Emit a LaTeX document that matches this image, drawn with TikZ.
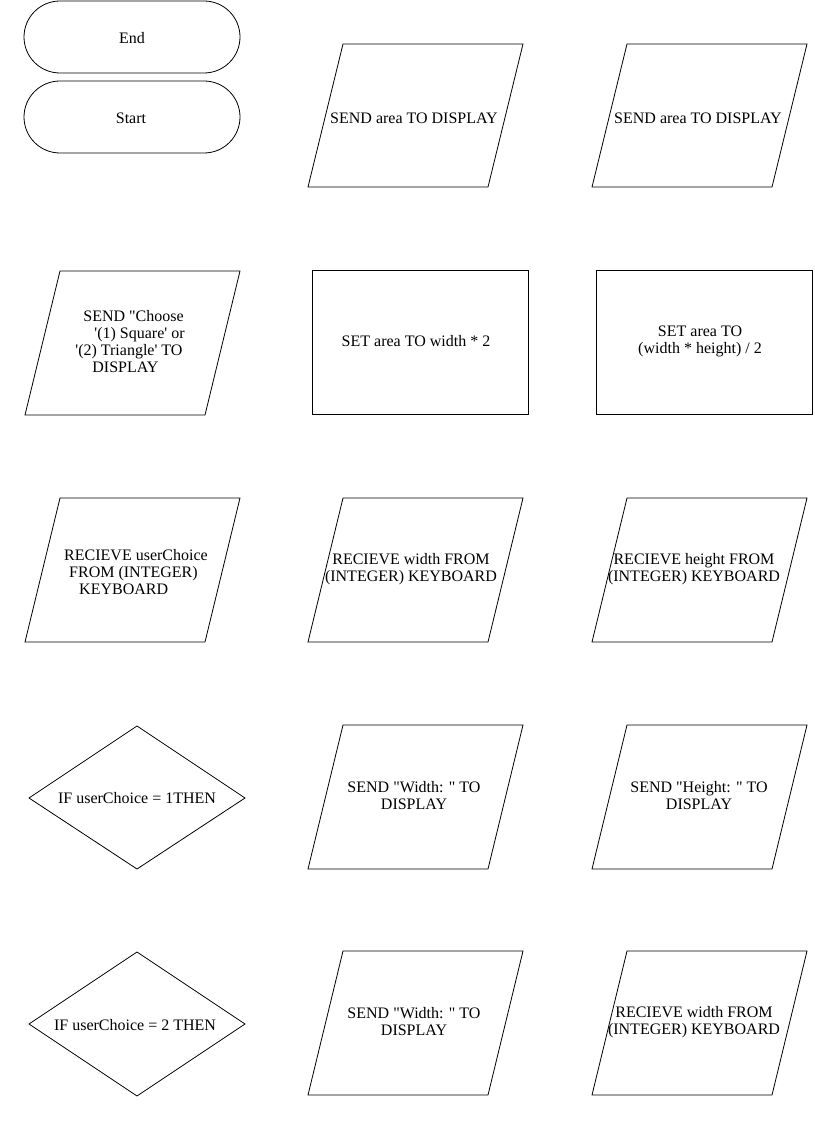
\documentclass[tikz,border=0pt]{standalone}
\usepackage{fontspec}
\setmainfont{Liberation Serif}[Ligatures=TeXOff]
\newcommand\pgram[3]{\draw[shp] (#1,#2) -- (#1+180,#2) -- (#1+145,#3) -- (#1-35,#3) -- cycle;}
\begin{document}
\begin{tikzpicture}[x=1pt,y=-1pt,
  shp/.style={draw=black,line width=0.8pt},
  txt/.style={inner sep=0pt,font=\fontsize{16}{17}\selectfont,align=center}]
\useasboundingbox (0,0) rectangle (814,1123);
% terminals
\draw[shp,rounded corners=36pt] (24,1) rectangle (240,73);
\node[txt] (endn) at (132,38) {End};
\draw[shp,rounded corners=36pt] (24,81) rectangle (240,153);
\node[txt] (start) at (131,118) {Start};
% row 1
\pgram{343}{44}{187}
\node[txt] (r1c2) at (414,118) {SEND area TO DISPLAY};
\pgram{627}{44}{187}
\node[txt] (r1c3) at (698,118) {SEND area TO DISPLAY};
% row 2
\pgram{60}{271}{415}
\node[txt,align=left] (r2c1) at (130,342) {\hspace*{8pt}SEND "Choose\\\hspace*{19pt}'(1) Square' or\\'(2) Triangle' TO\\\hspace*{17pt}DISPLAY};
\draw[shp] (312,270) rectangle (528,414);
\node[txt] (r2c2) at (416,341) {SET area TO width * 2};
\draw[shp] (596,270) rectangle (812,414);
\node[txt] (r2c3) at (700,341) {SET area TO\\(width * height) / 2};
% row 3
\pgram{60}{498}{642}
\node[txt,align=left] (r3c1) at (136,572) {RECIEVE userChoice\\\hspace*{5pt}FROM (INTEGER)\\\hspace*{15pt}KEYBOARD};
\pgram{343}{498}{642}
\node[txt] (r3c2) at (411,569) {RECIEVE width FROM\\(INTEGER) KEYBOARD};
\pgram{627}{498}{642}
\node[txt] (r3c3) at (694,569) {RECIEVE height FROM\\(INTEGER) KEYBOARD};
% row 4
\draw[shp] (137,726) -- (245,798) -- (137,869) -- (29,798) -- cycle;
\node[txt] (if1) at (137,798) {IF userChoice = 1THEN};
\pgram{343}{725}{869}
\node[txt] (r4c2) at (414,796) {SEND "Width: " TO\\DISPLAY};
\pgram{627}{725}{869}
\node[txt] (r4c3) at (699,796) {SEND "Height: " TO\\DISPLAY};
% row 5
\draw[shp] (137,952) -- (245,1024) -- (137,1096) -- (29,1024) -- cycle;
\node[txt] (if2) at (135,1025) {IF userChoice = 2 THEN};
\pgram{343}{951}{1095}
\node[txt] (r5c2) at (414,1022) {SEND "Width: " TO\\DISPLAY};
\pgram{627}{951}{1095}
\node[txt] (r5c3) at (694,1022) {RECIEVE width FROM\\(INTEGER) KEYBOARD};
\end{tikzpicture}
\end{document}
